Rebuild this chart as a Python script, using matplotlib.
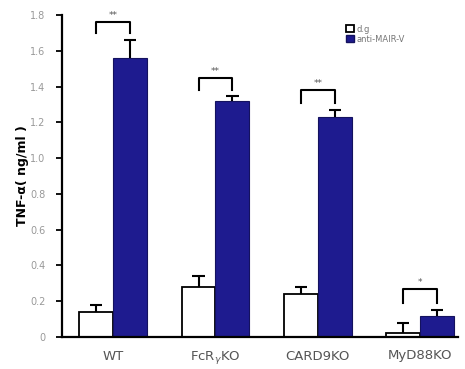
import matplotlib
matplotlib.use("Agg")
import matplotlib.pyplot as plt
from matplotlib.patches import Patch
import numpy as np

categories = ["WT", r"FcR$_\gamma$KO", "CARD9KO", "MyD88KO"]
ctrl_vals = [0.14, 0.28, 0.24, 0.02]
ctrl_err = [0.04, 0.06, 0.04, 0.06]
anti_vals = [1.56, 1.32, 1.23, 0.12]
anti_err = [0.10, 0.03, 0.04, 0.03]
sig_labels = ["**", "**", "**", "*"]
bracket_top = [1.76, 1.45, 1.38, 0.27]
bracket_leg = [1.70, 1.38, 1.31, 0.19]
yticks = [0, 0.2, 0.4, 0.6, 0.8, 1.0, 1.2, 1.4, 1.6, 1.8]
ytick_labels = ["0", "0.2", "0.4", "0.6", "0.8", "1.0", "1.2", "1.4", "1.6", "1.8"]
legend_labels = ["d.g", "anti-MAIR-V"]

navy = "#1e1b8f"

fig = plt.figure(figsize=(4.65, 3.69), dpi=100)
ax = fig.add_axes([62/465, 32/369, 396/465, 322/369])

x = np.arange(len(categories))
w = 0.33
off = 0.165
ax.bar(x - off, ctrl_vals, w, color="white", edgecolor="black", linewidth=1.3, zorder=2)
ax.bar(x + off, anti_vals, w, color=navy, edgecolor="#14125e", linewidth=0.8, zorder=2)

# error bars (upper only)
for xs, v, e in [(x - off, ctrl_vals, ctrl_err), (x + off, anti_vals, anti_err)]:
    v = np.array(v); e = np.array(e)
    ax.vlines(xs, v, v + e, color="black", linewidth=1.5, zorder=3)
    ax.hlines(v + e, xs - 0.06, xs + 0.06, color="black", linewidth=1.5, zorder=3)

# significance brackets
for i in range(len(categories)):
    x0, x1 = x[i] - off, x[i] + off
    ax.plot([x0, x0, x1, x1], [bracket_leg[i], bracket_top[i], bracket_top[i], bracket_leg[i]],
            color="black", linewidth=1.5, zorder=3)
    ax.text((x0 + x1) / 2, bracket_top[i] + 0.01, sig_labels[i], ha="center", va="bottom",
            fontsize=6.5, color="#555555")

ax.set_xlim(-0.5, 3.37)
ax.set_ylim(0, 1.8)
ax.set_yticks(yticks)
ax.set_yticklabels(ytick_labels, fontsize=7, color="#999999")
ax.set_xticks(x)
ax.set_xticklabels(categories, fontsize=9.5, color="#555555")
ax.tick_params(axis="x", length=0, pad=9)
ax.tick_params(axis="y", length=4, width=1.3, direction="out", pad=8)
for s in ["top", "right"]:
    ax.spines[s].set_visible(False)
for s in ["left", "bottom"]:
    ax.spines[s].set_linewidth(1.6)

ax.set_ylabel("TNF-α( ng/ml )", fontsize=9, fontweight="bold", labelpad=1)

handles = [Patch(facecolor="white", edgecolor="black", linewidth=1.3),
           Patch(facecolor=navy, edgecolor="#14125e")]
leg = ax.legend(handles, legend_labels, loc="upper left", bbox_to_anchor=(0.71, 0.98),
                frameon=False, fontsize=6, handlelength=0.9, handleheight=0.9,
                handletextpad=0.3, labelspacing=0.1, borderaxespad=0)
for t in leg.get_texts():
    t.set_color("#777777")

fig.savefig("out.png", dpi=100)
